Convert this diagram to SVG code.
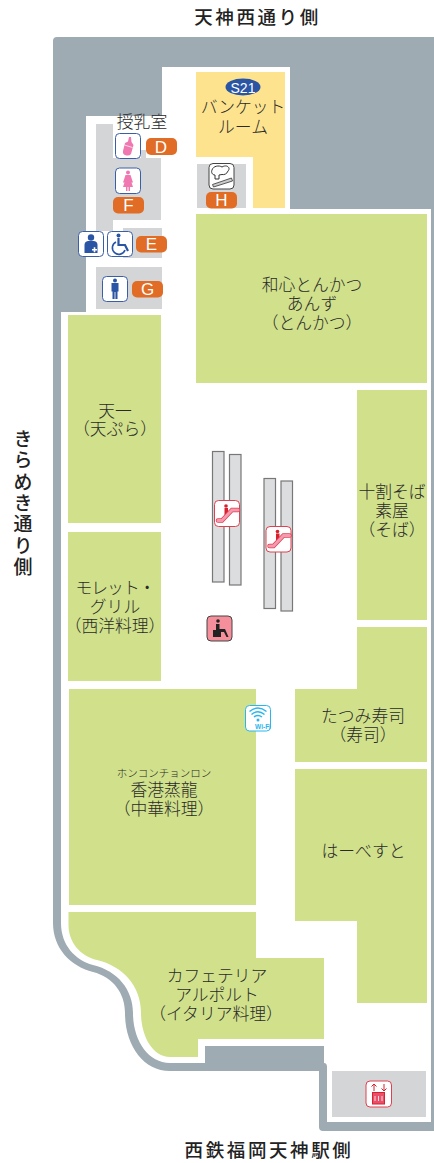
<svg xmlns="http://www.w3.org/2000/svg" width="434" height="1163" viewBox="0 0 434 1163">
<defs>
<style>
text{font-family:"Noto Sans CJK JP","Liberation Sans",sans-serif;fill:#2a2a2a;font-weight:300;text-anchor:middle}
.s{fill:#d0e08b}
.r{fill:#d4d5d7}
.n{font-size:16.8px}
.o{fill:#e06c26}
.bl{fill:#fff;font-family:"Liberation Sans",sans-serif;font-size:17px;font-weight:400}
.ic{fill:#fff;stroke:#3a5fa8;stroke-width:1}
.tb{fill:#2a55a5}
.tp{fill:#f078b0}
.es{fill:#dcddde;stroke:#777;stroke-width:1.200}
.ei{fill:#fff;stroke:#e0404f;stroke-width:1}
.dir{font-size:18.500px;fill:#222;font-weight:500}
</style>
</defs>
<rect width="434" height="1163" fill="#fff"/>
<g id="walls">
<path fill="#9eabb3" d="M57 37H434V209H290V67H162V116H86V312H61V923C61 945 75 960 93 965C118 971 133 990 133 1013C133 1040 148 1063 170 1063H205V1046H324V1063Q327 1063 327 1067V1122H431V209H434V1131H323Q319 1131 319 1127V1071H170C143 1071 125 1045 125 1013C125 993 113 977 93 972C70 966 53 948 53 923V41Q53 37 57 37Z"/>
</g>
<g id="shop-yellow"><path fill="#fde38e" d="M196 72H285V208H253V157H196Z"/></g>
<g id="rooms">
<path class="r" d="M96 124H113V158H161V220H113V231H96Z"/>
<rect class="r" x="141" y="150" width="5" height="8"/>
<rect class="r" x="123" y="228" width="39" height="30"/>
<rect class="r" x="96" y="267" width="66" height="42"/>
<rect class="r" x="197" y="164" width="49" height="44"/>
<rect class="r" x="332" y="1071" width="94" height="46"/>
</g>
<g id="shop-washin"><rect class="s" x="196" y="214" width="231" height="169"/><text class="n" x="312" y="291">和心とんかつ</text><text class="n" x="312" y="310">あんず</text><text class="n" x="312" y="329">（とんかつ）</text></g>
<g id="shop-tenichi"><rect class="s" x="68" y="315" width="93" height="208"/><text class="n" x="115" y="417">天一</text><text class="n" x="115" y="435">（天ぷら）</text></g>
<g id="shop-mollet"><rect class="s" x="68" y="532" width="93" height="149"/><text class="n" x="115" y="594" style="letter-spacing:-1px">モレット・</text><text class="n" x="115" y="613">グリル</text><text class="n" x="115" y="632">（西洋料理）</text></g>
<g id="shop-hongkong"><rect class="s" x="69" y="689" width="187" height="216"/><text x="164" y="777" font-size="10.500">ホンコンチョンロン</text><text class="n" x="164" y="796">香港蒸龍</text><text class="n" x="164" y="815">（中華料理）</text></g>
<g id="shop-alpolt"><path class="s" d="M68.500 912H256V958H324V1039H198V1057H170C152 1057 141 1035 141 1013C141 985 122 966 97 960C80 956 68.500 942 68.500 925Z"/><text class="n" x="217" y="982">カフェテリア</text><text class="n" x="217" y="1001">アルポルト</text><text class="n" x="216" y="1020">（イタリア料理）</text></g>
<g id="shop-soba"><rect class="s" x="357" y="390" width="70" height="230"/><text class="n" x="392" y="498">十割そば</text><text class="n" x="392" y="517">素屋</text><text class="n" x="392" y="536">（そば）</text></g>
<g id="shop-tatsumi"><path class="s" d="M357 627H427V762H295V689H357Z"/><text class="n" x="363" y="722">たつみ寿司</text><text class="n" x="363" y="741">（寿司）</text></g>
<g id="shop-harvest"><path class="s" d="M295 769H427V1003H357V921H295Z"/><text class="n" x="363.500" y="857">はーべすと</text></g>
<g id="shop-banquet"><ellipse cx="243" cy="87" rx="17.500" ry="8.500" fill="#2a55a5"/><text x="243" y="92.500" font-size="14" style="font-family:'Liberation Sans',sans-serif;fill:#fff;font-weight:400">S21</text><text class="n" x="243" y="113">バンケット</text><text class="n" x="243" y="133">ルーム</text></g>
<g id="label-nursing"><text class="n" x="142" y="128">授乳室</text></g>
<g id="escalators">
<rect class="es" x="212.500" y="451.500" width="11.500" height="130.500"/>
<rect class="es" x="229.500" y="454.500" width="11.500" height="130.500"/>
<rect class="es" x="264" y="478.500" width="11.500" height="130"/>
<rect class="es" x="281" y="481" width="11.500" height="130"/>
</g>
<g id="icon-nursing"><rect class="ic" x="115.500" y="133.500" width="25" height="25" rx="4"/><path class="tp" d="M125 143L128 141.500L129 137H131L131.500 142L133.500 145L131 154Q129 156.500 125 155Q122.500 154 123 151Z"/><path d="M124.500 145L132.500 147.500" stroke="#fff" stroke-width=".7"/></g>
<g id="icon-women"><rect class="ic" x="115.500" y="168" width="25" height="25.500" rx="4"/><circle class="tp" cx="128" cy="172.500" r="2"/><path class="tp" d="M125.500 175H130.500L133 182.500H131.500L133 187H130V191H128.500V187H127.500V191H126V187H123L124.500 182.500H123Z"/></g>
<g id="icon-accessible"><rect class="ic" x="78.500" y="231.500" width="25" height="25" rx="4"/><circle class="tb" cx="91" cy="237.500" r="3.200"/><path class="tb" d="M84.500 253V245Q84.500 241.500 88 241H94Q97.500 241.500 97.500 245V253Z"/><path fill="#fff" d="M92 249h1.700v-1.700h1.600v1.700h1.700v1.600h-1.700v1.700h-1.600v-1.700h-1.700Z"/></g>
<g id="icon-wheelchair"><rect class="ic" x="107.500" y="231.500" width="25" height="25" rx="4"/><circle class="tb" cx="118.500" cy="235.500" r="2"/><path d="M118.500 238V245H125L128 251" fill="none" stroke="#2a55a5" stroke-width="2.200"/><path d="M116 242A6.500 6.500 0 1 0 125 250" fill="none" stroke="#2a55a5" stroke-width="1.600"/></g>
<g id="icon-men"><rect class="ic" x="102.500" y="276.500" width="25" height="25" rx="4"/><circle class="tb" cx="115" cy="280.500" r="2"/><path class="tb" d="M111.500 283H118.500V291.500H117.500V299H115.400V292H114.600V299H112.500V291.500H111.500Z"/></g>
<g id="icon-smoking"><rect x="209" y="163.500" width="25" height="25.500" rx="4" fill="#fff" stroke="#444"/><path d="M212 170C213 166 219 165 222 167C227 164 231 168 228 171C227 174 224 175 222 174.500L219 175V179H215V175C212 175 211 172 212 170Z" fill="#fff" stroke="#333"/><path d="M212.500 184.500L231.500 178L232.500 181L213.500 187Z" fill="#ccc" stroke="#333" stroke-width=".8"/></g>
<g id="badge-d"><rect class="o" x="146" y="138" width="31" height="17" rx="5"/><text class="bl" x="161" y="152.500">D</text></g>
<g id="badge-f"><rect class="o" x="113" y="197" width="31" height="16.500" rx="5"/><text class="bl" x="128.500" y="211">F</text></g>
<g id="badge-e"><rect class="o" x="136" y="236" width="31" height="16.500" rx="5"/><text class="bl" x="151.500" y="250">E</text></g>
<g id="badge-g"><rect class="o" x="132" y="281" width="31" height="16.500" rx="5"/><text class="bl" x="147.500" y="295">G</text></g>
<g id="badge-h"><rect class="o" x="206" y="192" width="31" height="16.500" rx="5"/><text class="bl" x="221.500" y="206">H</text></g>
<g id="icon-escalator-1"><rect class="ei" x="214.500" y="500.500" width="25" height="26" rx="4"/><circle cx="226" cy="506" r="1.800" fill="#d8202f"/><rect x="224.500" y="508" width="3.500" height="8" fill="#d8202f"/><path d="M218 520.500H222L232 510H238" fill="none" stroke="#e0404f" stroke-width="4.500" stroke-linecap="round"/><path d="M218 520.500H222L232 510H238" fill="none" stroke="#f49ab0" stroke-width="3" stroke-linecap="round"/></g>
<g id="icon-escalator-2"><rect class="ei" x="266" y="526.500" width="25" height="25.500" rx="4"/><circle cx="277.500" cy="531.500" r="1.800" fill="#d8202f"/><rect x="276" y="533.500" width="3.500" height="8" fill="#d8202f"/><path d="M269.500 546H273.500L283.500 535.500H289.500" fill="none" stroke="#e0404f" stroke-width="4.500" stroke-linecap="round"/><path d="M269.500 546H273.500L283.500 535.500H289.500" fill="none" stroke="#f49ab0" stroke-width="3" stroke-linecap="round"/></g>
<g id="icon-rest"><rect x="207" y="616" width="25" height="25" rx="4" fill="#f48f9b" stroke="#444"/><circle cx="218" cy="621" r="1.800" fill="#222"/><path d="M213 637V630H216V624H219.500V629H225L228.500 637H226.500L224 632H221V637Z" fill="#222"/></g>
<g id="icon-wifi"><rect x="245.500" y="705.500" width="25" height="25.500" rx="4" fill="#fff" stroke="#29b6ee"/><g fill="none" stroke="#29b6ee" stroke-width="1.500"><path d="M249.500 711.500Q258 704.500 266.500 711.500"/><path d="M251.500 714.500Q258 709 264.500 714.500"/><path d="M254 717Q258 714 262 717"/></g><circle cx="258" cy="720" r="1.500" fill="#29b6ee"/><text x="263" y="729" font-size="6.500" style="font-family:'Liberation Sans',sans-serif;fill:#29b6ee;font-weight:700">Wi-Fi</text></g>
<g id="icon-elevator"><rect x="366" y="1081" width="25.500" height="26" rx="4" fill="#fff" stroke="#e0404f"/><path d="M374 1091V1084M371.500 1086.500L374 1084L376.500 1086.500M384 1084V1091M381.500 1088.500L384 1091L386.500 1088.500" fill="none" stroke="#d8202f" stroke-width="1"/><rect x="372.500" y="1092.500" width="12" height="11.500" fill="#e8506a" stroke="#d8202f"/><path d="M375 1096V1101M378.500 1096V1101M382 1096V1101" stroke="#fff" stroke-width=".8"/></g>
<g id="directions">
<text class="dir" x="257.500" y="24" style="letter-spacing:2.600px">天神西通り側</text>
<text class="dir" x="269" y="1157" style="letter-spacing:2.600px">西鉄福岡天神駅側</text>
<text class="dir" x="23" y="504" writing-mode="vertical-rl" style="font-size:19px;letter-spacing:2.300px">きらめき通り側</text>
</g>
</svg>
